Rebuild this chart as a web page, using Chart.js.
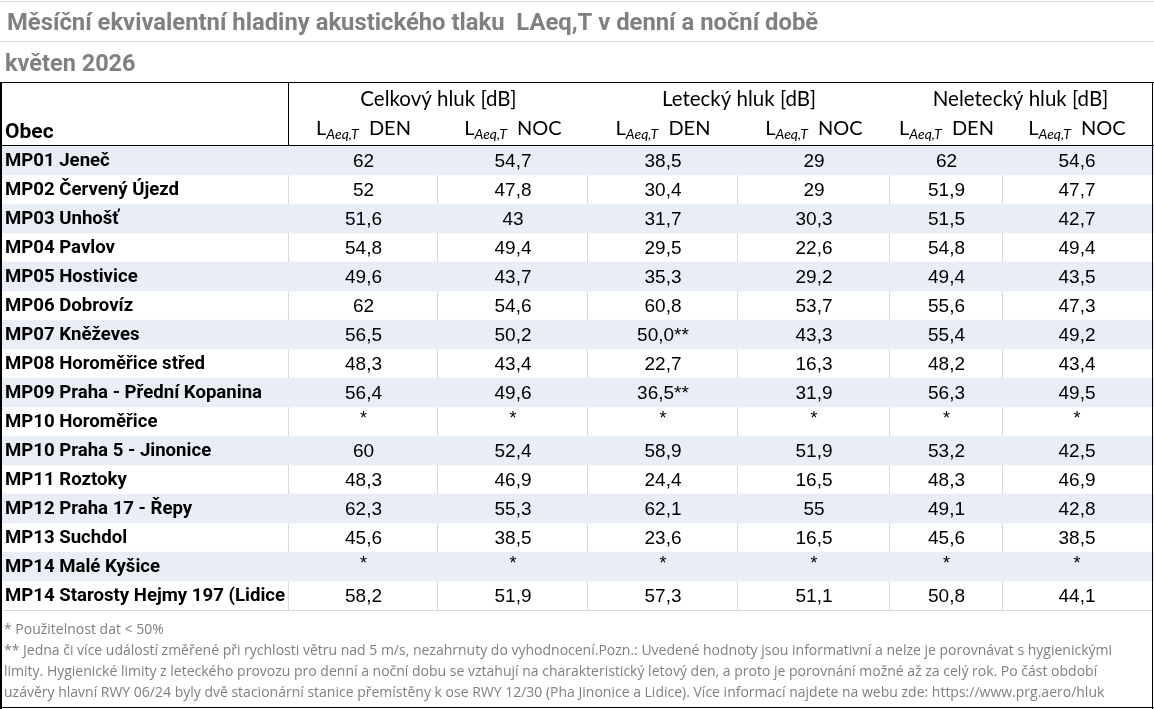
<!DOCTYPE html>
<html><head><meta charset="utf-8">
<script src="https://cdn.jsdelivr.net/npm/chart.js@4"></script>
<style>html,body{margin:0;padding:0;background:#fff;overflow:hidden}#wrap{position:relative;width:1154px;height:709px}</style>
</head><body><div id="wrap"><canvas id="c"></canvas></div>
<script>
const titleText = "Měsíční ekvivalentní hladiny akustického tlaku  LAeq,T v denní a noční době";
const subtitleText = "květen 2026";
const groupLabels = ["Celkový hluk [dB]", "Letecký hluk [dB]", "Neletecký hluk [dB]"];
const periodLabels = ["DEN", "NOC", "DEN", "NOC", "DEN", "NOC"];
const firstColLabel = "Obec";
const obec = [
  "MP01 Jeneč", "MP02 Červený Újezd", "MP03 Unhošť", "MP04 Pavlov", "MP05 Hostivice",
  "MP06 Dobrovíz", "MP07 Kněževes", "MP08 Horoměřice střed", "MP09 Praha - Přední Kopanina",
  "MP10 Horoměřice", "MP10 Praha 5 - Jinonice", "MP11 Roztoky", "MP12 Praha 17 - Řepy",
  "MP13 Suchdol", "MP14 Malé Kyšice", "MP14 Starosty Hejmy 197 (Lidice"
];
const celkovyDen   = [62, 52, 51.6, 54.8, 49.6, 62, 56.5, 48.3, 56.4, null, 60, 48.3, 62.3, 45.6, null, 58.2];
const celkovyNoc   = [54.7, 47.8, 43, 49.4, 43.7, 54.6, 50.2, 43.4, 49.6, null, 52.4, 46.9, 55.3, 38.5, null, 51.9];
const leteckyDen   = [38.5, 30.4, 31.7, 29.5, 35.3, 60.8, 50.0, 22.7, 36.5, null, 58.9, 24.4, 62.1, 23.6, null, 57.3];
const leteckyNoc   = [29, 29, 30.3, 22.6, 29.2, 53.7, 43.3, 16.3, 31.9, null, 51.9, 16.5, 55, 16.5, null, 51.1];
const neleteckyDen = [62, 51.9, 51.5, 54.8, 49.4, 55.6, 55.4, 48.2, 56.3, null, 53.2, 48.3, 49.1, 45.6, null, 50.8];
const neleteckyNoc = [54.6, 47.7, 42.7, 49.4, 43.5, 47.3, 49.2, 43.4, 49.5, null, 42.5, 46.9, 42.8, 38.5, null, 44.1];
const leteckyDenWindFlag = [0, 0, 0, 0, 0, 0, 1, 0, 1, 0, 0, 0, 0, 0, 0, 0];
const footnotes = [
  "* Použitelnost dat < 50%",
  "** Jedna či více událostí změřené při rychlosti větru nad 5 m/s, nezahrnuty do vyhodnocení.Pozn.: Uvedené hodnoty jsou informativní a nelze je porovnávat s hygienickými",
  "limity. Hygienické limity z leteckého provozu pro denní a noční dobu se vztahují na charakteristický letový den, a proto je porovnání možné až za celý rok. Po část období",
  "uzávěry hlavní RWY 06/24 byly dvě stacionární stanice přemístěny k ose RWY 12/30 (Pha Jinonice a Lidice). Více informací najdete na webu zde: https://www.prg.aero/hluk"
];

// layout (x-scale units), not data
const W = 1154, H = 709;
const COL_EDGES = [289, 438, 588, 738, 890, 1003, 1151];
const columns = [celkovyDen, celkovyNoc, leteckyDen, leteckyNoc, neleteckyDen, neleteckyNoc];
const flags = [null, null, leteckyDenWindFlag, null, null, null];

function fmt(v, flag) {
  if (v === null || v === undefined) return "*";
  if (flag) return v.toFixed(1).replace(".", ",") + "**";
  return String(v).replace(".", ",");
}

const tablePlugin = {
  id: "tablePlugin",
  beforeDatasetsDraw(chart) {
    const ctx = chart.ctx, ca = chart.chartArea, xs = chart.scales.x;
    ctx.save();
    ctx.fillStyle = "#d9d9d9";
    for (let i = 0; i < COL_EDGES.length - 1; i++) {
      const x = Math.round(xs.getPixelForValue(COL_EDGES[i]));
      ctx.fillRect(x - 1, ca.top, 1, ca.bottom - ca.top);
    }
    ctx.restore();
  },
  afterDatasetsDraw(chart) {
    const ctx = chart.ctx, ca = chart.chartArea, xs = chart.scales.x, ys = chart.scales.y;
    ctx.save();
    // top decorative lines
    ctx.fillStyle = "#dedede";
    ctx.fillRect(0, 1, W, 1);
    ctx.fillRect(0, 41, W, 1);
    // title
    ctx.fillStyle = "#808080";
    ctx.textBaseline = "alphabetic";
    ctx.textAlign = "left";
    ctx.font = "bold 23.8px Roboto";
    ctx.fillText(titleText, 7, 30);
    ctx.font = "bold 23.5px Roboto";
    ctx.fillText(subtitleText, 5, 71);
    // table borders
    ctx.fillStyle = "#000";
    ctx.fillRect(0, 82, W, 1);
    ctx.fillRect(0, ca.top - 1, W, 1);
    ctx.fillRect(Math.round(xs.getPixelForValue(COL_EDGES[0])) - 1, 82, 1, ca.top - 82);
    ctx.fillRect(0, 82, 2, H - 82);
    ctx.fillRect(W - 2, 82, 1, H - 82);
    ctx.fillRect(0, H - 2, W, 1);
    ctx.fillStyle = "#d9d9d9";
    ctx.fillRect(2, ca.bottom, W - 4, 1);

    // header
    ctx.fillStyle = "#000";
    ctx.font = "bold 21px Roboto";
    ctx.textAlign = "left";
    ctx.fillText(firstColLabel, 5, 138);
    ctx.font = "20.5px Lato";
    ctx.textAlign = "center";
    for (let g = 0; g < 3; g++) {
      const cx = (xs.getPixelForValue(COL_EDGES[2 * g]) + xs.getPixelForValue(COL_EDGES[2 * g + 2])) / 2;
      ctx.fillText(groupLabels[g], cx, 106);
    }
    for (let c = 0; c < 6; c++) {
      const cx = (xs.getPixelForValue(COL_EDGES[c]) + xs.getPixelForValue(COL_EDGES[c + 1])) / 2;
      const fL = "20px Lato", fS = "italic 14px Lato", fP = "20px Lato";
      ctx.font = fL; const wL = ctx.measureText("L").width;
      ctx.font = fS; const wS = ctx.measureText("Aeq,T").width;
      ctx.font = fP; const wP = ctx.measureText("  " + periodLabels[c]).width;
      let x = cx - (wL + wS + wP) / 2;
      ctx.textAlign = "left";
      ctx.font = fL; ctx.fillText("L", x, 135); x += wL;
      ctx.font = fS; ctx.fillText("Aeq,T", x, 139); x += wS;
      ctx.font = fP; ctx.fillText("  " + periodLabels[c], x, 135);
    }

    // rows
    ctx.textBaseline = "middle";
    for (let r = 0; r < obec.length; r++) {
      const y = ys.getPixelForValue(r) + 1;
      ctx.textAlign = "left";
      ctx.font = "bold 18.6px Roboto";
      ctx.fillStyle = "#000";
      ctx.fillText(obec[r], 5, y);
      ctx.textAlign = "center";
      for (let c = 0; c < 6; c++) {
        const cx = (xs.getPixelForValue(COL_EDGES[c]) + xs.getPixelForValue(COL_EDGES[c + 1])) / 2;
        const v = columns[c][r];
        const f = flags[c] ? flags[c][r] : 0;
        if (v === null) {
          ctx.font = "18px 'Liberation Sans'";
          ctx.fillText("*", cx, y - 3);
        } else {
          ctx.font = "19px 'Liberation Sans'";
          ctx.fillText(fmt(v, f), cx, y);
        }
      }
    }

    // footnotes
    ctx.textBaseline = "alphabetic";
    ctx.textAlign = "left";
    ctx.fillStyle = "#7f7f7f";
    ctx.font = "14px 'Open Sans'";
    const fy = [634, 655, 676, 697];
    footnotes.forEach((t, i) => ctx.fillText(t, 4, fy[i]));
    ctx.restore();
  }
};

new Chart(document.getElementById("c"), {
  type: "bar",
  data: {
    labels: obec,
    datasets: [{
      data: obec.map((_, i) => (i % 2 === 0 ? [0, W] : null)),
      backgroundColor: "#e9edf5",
      borderWidth: 0,
      barPercentage: 1,
      categoryPercentage: 1
    }]
  },
  options: {
    indexAxis: "y",
    responsive: true,
    maintainAspectRatio: false,
    animation: false,
    layout: { padding: { top: 146, bottom: 99, left: 0, right: 0 } },
    scales: {
      x: { type: "linear", min: 0, max: W, display: false },
      y: { type: "category", display: false, offset: true }
    },
    plugins: { legend: { display: false }, tooltip: { enabled: false } }
  },
  plugins: [tablePlugin]
});
</script>
</body></html>
